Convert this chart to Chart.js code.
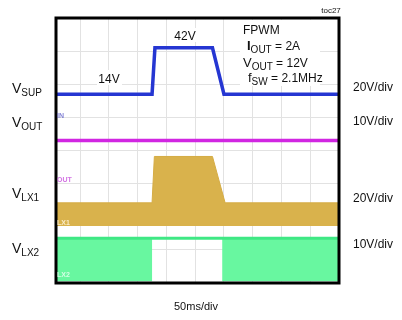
<!DOCTYPE html>
<html>
<head>
<meta charset="utf-8">
<script src="https://cdn.jsdelivr.net/npm/chart.js@4.4.1/dist/chart.umd.min.js"></script>
<style>
  html, body { margin: 0; padding: 0; background: #ffffff; }
  #wrap { width: 402px; height: 320px; }
</style>
</head>
<body>
<div id="wrap"><canvas id="scope" width="402" height="320"></canvas></div>
<script>
// Time axis (ms) and grid divisions
const timeWindow = [8, 500];
const timeGrid = [50, 100, 150, 200, 250, 300, 350, 400, 450];
const voltGrid = [1, 2, 3, 4, 5, 6, 7];

// VSUP: 14V -> 42V -> 14V line transient
const vsupTime = [8, 175, 180, 280, 300, 500];
const vsupVolts = [14, 14, 42, 42, 14, 14];

// VOUT: regulated output
const voutTime = [8, 500];
const voutVolts = [12, 12];

// VLX1: switching envelope (0V to the top value)
const lx1Time = [8, 175, 179, 280, 302, 500];
const lx1Volts = [14, 14, 42, 42, 14, 14];

// VLX2: switching high level and low level (stays high while in buck mode)
const lx2HighTime = [8, 500];
const lx2HighVolts = [13, 13];
const lx2LowTime = [8, 175, 175, 297, 297, 500];
const lx2LowVolts = [0, 0, 13, 13, 0, 0];

// Channel grounds (in divisions from the bottom) and vertical scales
const channels = {
  sup: { ground: 5.0, perDiv: 20 },
  out: { ground: 3.1, perDiv: 10 },
  lx1: { ground: 1.72, perDiv: 20 },
  lx2: { ground: 0.05, perDiv: 10 }
};

function trace(times, volts, ch) {
  return times.map((t, i) => ({ x: t, y: ch.ground + volts[i] / ch.perDiv }));
}

const FONT = '"Liberation Sans", Arial, sans-serif';

function subText(ctx, x, y, main, sub, size, subSize, drop, mainBold) {
  ctx.font = (mainBold ? 'bold ' : '') + size + 'px ' + FONT;
  ctx.fillText(main, x, y);
  const w = ctx.measureText(main).width;
  ctx.font = subSize + 'px ' + FONT;
  ctx.fillText(sub, x + w, y + drop);
  return x + w + ctx.measureText(sub).width;
}

const scopeDecor = {
  id: 'scopeDecor',
  beforeDatasetsDraw(chart) {
    const ctx = chart.ctx;
    ctx.save();
    ctx.fillStyle = '#ffffff';
    // boxes behind the in-plot notes
    ctx.fillRect(240, 20, 80, 66);
    ctx.fillRect(97, 70, 25, 15);
    ctx.fillRect(173, 28, 25, 14);
    ctx.restore();
  },
  afterDraw(chart) {
    const ctx = chart.ctx;
    const a = chart.chartArea;
    const ys = chart.scales.y;
    ctx.save();
    // frame
    ctx.strokeStyle = '#000000';
    ctx.lineWidth = 3;
    ctx.strokeRect(a.left, a.top, a.right - a.left, a.bottom - a.top);

    ctx.fillStyle = '#111111';
    ctx.textBaseline = 'alphabetic';
    ctx.textAlign = 'left';

    // channel names on the left
    subText(ctx, 12, 93, 'V', 'SUP', 14, 10, 3);
    subText(ctx, 12, 127, 'V', 'OUT', 14, 10, 3);
    subText(ctx, 12, 198, 'V', 'LX1', 14, 10, 3);
    subText(ctx, 12, 253, 'V', 'LX2', 14, 10, 3);

    // vertical scales on the right
    ctx.font = '12px ' + FONT;
    ctx.fillText('20V/div', 353, 91);
    ctx.fillText('10V/div', 353, 125);
    ctx.fillText('20V/div', 353, 202);
    ctx.fillText('10V/div', 353, 248);

    // time base
    ctx.textAlign = 'center';
    ctx.font = '11px ' + FONT;
    ctx.fillText('50ms/div', 196, 310);
    ctx.font = '8px ' + FONT;
    ctx.fillText('toc27', 331, 13);

    // level notes
    ctx.font = '12px ' + FONT;
    ctx.fillText('14V', 109, 83);
    ctx.fillText('42V', 185, 40);

    // operating conditions
    ctx.textAlign = 'left';
    ctx.font = '12px ' + FONT;
    ctx.fillText('FPWM', 243, 34);
    let x = subText(ctx, 247, 50, 'I', 'OUT', 13, 10, 3, true);
    ctx.font = '12px ' + FONT;
    ctx.fillText(' = 2A', x, 50);
    x = subText(ctx, 243, 67, 'V', 'OUT', 13, 10, 3);
    ctx.font = '12px ' + FONT;
    ctx.fillText(' = 12V', x, 67);
    x = subText(ctx, 248, 82, 'f', 'SW', 13, 10, 3);
    ctx.font = '12px ' + FONT;
    ctx.fillText(' = 2.1MHz', x, 82);

    // channel ground markers
    ctx.font = 'bold 7px ' + FONT;
    ctx.textBaseline = 'middle';
    ctx.fillStyle = 'rgba(90,90,200,0.75)';
    ctx.fillText('IN', 57, ys.getPixelForValue(channels.sup.ground) - 1);
    ctx.fillStyle = 'rgba(200,80,220,0.8)';
    ctx.fillText('OUT', 57, ys.getPixelForValue(channels.out.ground));
    ctx.fillStyle = 'rgba(255,245,220,0.85)';
    ctx.fillText('LX1', 57, ys.getPixelForValue(channels.lx1.ground) - 3);
    ctx.fillStyle = 'rgba(230,255,240,0.85)';
    ctx.fillText('LX2', 57, ys.getPixelForValue(channels.lx2.ground) - 6);
    ctx.restore();
  }
};

const gridStyle = { color: '#e2e2e2', lineWidth: 1, drawTicks: false };

new Chart(document.getElementById('scope'), {
  type: 'line',
  data: {
    datasets: [
      {
        label: 'VLX2 high',
        data: trace(lx2HighTime, lx2HighVolts, channels.lx2),
        borderColor: '#3fe884',
        borderWidth: 3,
        fill: false,
        order: 5
      },
      {
        label: 'VLX2 low',
        data: trace(lx2LowTime, lx2LowVolts, channels.lx2),
        borderWidth: 0,
        borderColor: 'rgba(0,0,0,0)',
        backgroundColor: '#68f7a0',
        fill: '-1',
        order: 6
      },
      {
        label: 'VLX1',
        data: trace(lx1Time, lx1Volts, channels.lx1),
        borderColor: '#d5ac44',
        borderWidth: 1,
        backgroundColor: '#d9b24c',
        fill: { value: channels.lx1.ground },
        order: 4
      },
      {
        label: 'VOUT',
        data: trace(voutTime, voutVolts, channels.out),
        borderColor: '#d126e2',
        borderWidth: 3.5,
        fill: false,
        order: 2
      },
      {
        label: 'VSUP',
        data: trace(vsupTime, vsupVolts, channels.sup),
        borderColor: '#2536d2',
        borderWidth: 3.5,
        fill: false,
        order: 1
      }
    ]
  },
  options: {
    responsive: false,
    animation: false,
    events: [],
    layout: { padding: { left: 56, right: 63, top: 18, bottom: 37 } },
    elements: {
      point: { radius: 0 },
      line: { tension: 0, borderJoinStyle: 'miter' }
    },
    plugins: { legend: { display: false }, tooltip: { enabled: false } },
    scales: {
      x: {
        type: 'linear',
        min: timeWindow[0],
        max: timeWindow[1],
        afterBuildTicks: axis => { axis.ticks = timeGrid.map(v => ({ value: v })); },
        ticks: { display: false },
        grid: gridStyle,
        border: { display: false }
      },
      y: {
        type: 'linear',
        min: 0,
        max: 8,
        afterBuildTicks: axis => { axis.ticks = voltGrid.map(v => ({ value: v })); },
        ticks: { display: false },
        grid: gridStyle,
        border: { display: false }
      }
    }
  },
  plugins: [scopeDecor]
});
</script>
</body>
</html>
